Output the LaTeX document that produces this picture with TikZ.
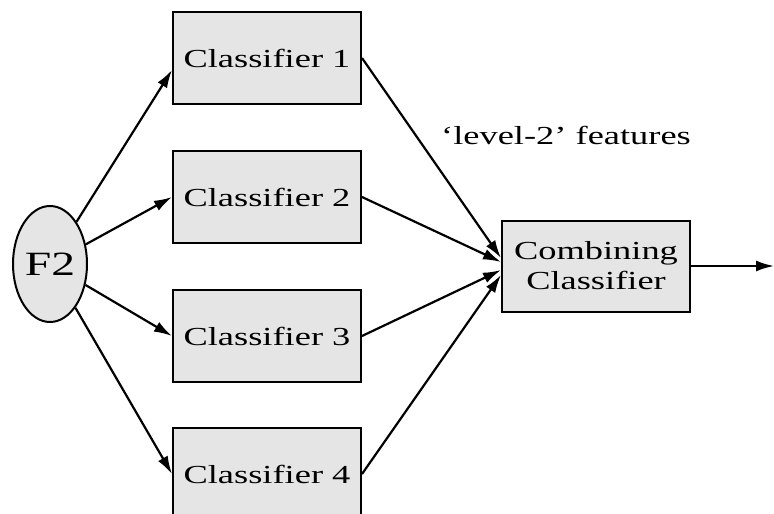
\documentclass[tikz,border=0pt]{standalone}
\usepackage{fontspec}
\setmainfont{Liberation Serif}[FakeStretch=1.4]
\usetikzlibrary{arrows.meta,shapes.geometric}

\begin{document}
\begin{tikzpicture}[x=0.5pt,y=-0.5pt,
	box/.style={draw, line width=1pt, fill=gray!20, minimum width=94pt,
		minimum height=46pt, inner sep=0pt, align=center,
		font=\fontsize{13}{15}\selectfont},
	feat/.style={draw, line width=1pt, fill=gray!20, ellipse, minimum width=37pt,
		minimum height=58pt, inner sep=0pt, font=\fontsize{17}{19}\selectfont},
	link/.style={-{Latex[length=9pt,width=5.5pt]}, line width=1.1pt}]

% frame %{{{2

	\useasboundingbox (0,0) rectangle (774,513);

% nodes %{{{2

	\node[feat] (F2) at (50,264) {F2};

	\foreach \i/\y in {1/58,2/197,3/336,4/474} {
		\node[box] (C\i) at (267,\y) {Classifier \i};
	}

	\node[box, minimum height=45.5pt] (CC) at (596,266) {Combining\\Classifier};

	\node[font=\fontsize{13}{15}\selectfont] (lvl) at (566,135) {`level-2' features};

	\coordinate (out) at (774,266);

% connectors %{{{2

	\draw[link] (F2) -- ([yshift=-6pt]C1.west);
	\foreach \i in {2,3,4} { \draw[link] (F2) -- (C\i.west); }

	\foreach \i/\s in {1/4pt,2/2pt,3/-2pt,4/-4.5pt} {
		\draw[link] (C\i.east) -- ([yshift=\s]CC.west);
	}

	\draw[link] (CC) -- (out);

% closing %{{{2

\end{tikzpicture}
\end{document}
